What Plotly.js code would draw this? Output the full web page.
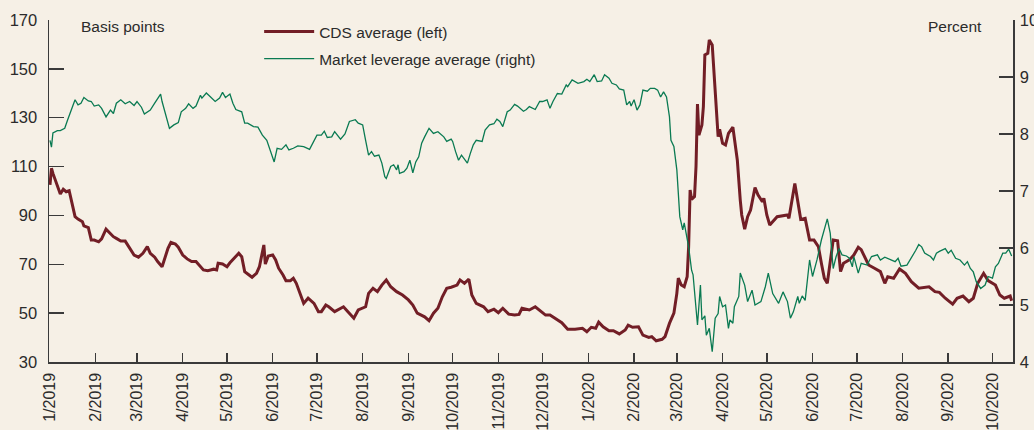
<!DOCTYPE html>
<html>
<head>
<meta charset="utf-8">
<script src="https://cdn.plot.ly/plotly-3.0.1.min.js"></script>
<style>
  html, body { margin: 0; padding: 0; background: #F6F0E6; }
  #chart { width: 1034px; height: 430px; }
</style>
</head>
<body>
<div id="chart"></div>
<script>
// CDS average (left axis, basis points)
const cdsDates = [
  '2019-01-01','2019-01-02','2019-01-03','2019-01-06','2019-01-08','2019-01-10','2019-01-12','2019-01-14','2019-01-16','2019-01-18',
  '2019-01-20','2019-01-23','2019-01-24','2019-01-27','2019-01-29','2019-01-31','2019-02-03','2019-02-05','2019-02-08','2019-02-11',
  '2019-02-13','2019-02-15','2019-02-18','2019-02-21','2019-02-24','2019-02-27','2019-03-02','2019-03-05','2019-03-08','2019-03-10',
  '2019-03-13','2019-03-15','2019-03-18','2019-03-20','2019-03-22','2019-03-24','2019-03-27','2019-03-29','2019-04-01','2019-04-04',
  '2019-04-07','2019-04-10','2019-04-13','2019-04-15','2019-04-18','2019-04-22','2019-04-24','2019-04-25','2019-04-28','2019-05-01',
  '2019-05-03','2019-05-06','2019-05-09','2019-05-11','2019-05-13','2019-05-16','2019-05-18','2019-05-21','2019-05-23','2019-05-26',
  '2019-05-27','2019-05-29','2019-06-01','2019-06-03','2019-06-05','2019-06-08','2019-06-10','2019-06-13','2019-06-15','2019-06-17',
  '2019-06-20','2019-06-22','2019-06-25','2019-06-29','2019-07-02','2019-07-04','2019-07-07','2019-07-09','2019-07-13','2019-07-19',
  '2019-07-22','2019-07-26','2019-07-29','2019-08-03','2019-08-05','2019-08-08','2019-08-11','2019-08-14','2019-08-17','2019-08-20',
  '2019-08-24','2019-08-28','2019-09-01','2019-09-04','2019-09-07','2019-09-10','2019-09-12','2019-09-15','2019-09-18','2019-09-21',
  '2019-09-24','2019-09-27','2019-09-30','2019-10-04','2019-10-06','2019-10-09','2019-10-12','2019-10-14','2019-10-17','2019-10-22',
  '2019-10-25','2019-10-29','2019-11-01','2019-11-04','2019-11-08','2019-11-12','2019-11-15','2019-11-17','2019-11-22','2019-11-26',
  '2019-11-29','2019-12-03','2019-12-06','2019-12-09','2019-12-14','2019-12-18','2019-12-23','2019-12-28','2019-12-31','2020-01-03',
  '2020-01-06','2020-01-08','2020-01-11','2020-01-15','2020-01-18','2020-01-22','2020-01-26','2020-01-28','2020-01-31','2020-02-04',
  '2020-02-07','2020-02-11','2020-02-13','2020-02-16','2020-02-20','2020-02-22','2020-02-25','2020-02-28','2020-03-01','2020-03-02',
  '2020-03-04','2020-03-06','2020-03-08','2020-03-09','2020-03-10','2020-03-11','2020-03-13','2020-03-14','2020-03-15','2020-03-16',
  '2020-03-18','2020-03-19','2020-03-20','2020-03-22','2020-03-23','2020-03-25','2020-03-27','2020-03-29','2020-03-30','2020-04-01',
  '2020-04-03','2020-04-05','2020-04-08','2020-04-09','2020-04-11','2020-04-13','2020-04-14','2020-04-16','2020-04-18','2020-04-20',
  '2020-04-23','2020-04-25','2020-04-28','2020-04-29','2020-05-01','2020-05-03','2020-05-08','2020-05-15','2020-05-16','2020-05-20',
  '2020-05-22','2020-05-24','2020-05-27','2020-05-30','2020-06-02','2020-06-05','2020-06-07','2020-06-09','2020-06-11','2020-06-13',
  '2020-06-15','2020-06-18','2020-06-20','2020-06-22','2020-06-26','2020-06-29','2020-07-02','2020-07-04','2020-07-07','2020-07-09',
  '2020-07-13','2020-07-17','2020-07-20','2020-07-22','2020-07-26','2020-07-30','2020-08-03','2020-08-07','2020-08-12','2020-08-19',
  '2020-08-23','2020-08-26','2020-08-30','2020-09-04','2020-09-07','2020-09-11','2020-09-15','2020-09-18','2020-09-21','2020-09-25',
  '2020-09-28','2020-10-03','2020-10-06','2020-10-09','2020-10-13','2020-10-14'
];
const cdsValues = [
  102.5,109.3,107.2,101.8,98.8,100.7,99.7,100.1,95.0,89.5,
  88.5,87.4,85.7,85.0,79.9,79.9,79.2,80.4,84.4,82.7,
  81.3,80.6,79.5,79.5,76.5,73.8,72.9,74.5,77.2,74.5,
  72.9,71.1,69.0,73.1,76.5,79.0,78.3,77.0,73.8,72.2,
  71.1,71.1,69.3,67.7,67.4,68.0,67.7,70.4,70.1,69.0,
  70.6,72.4,74.5,73.1,67.0,65.6,64.7,66.3,69.0,77.9,
  70.1,73.4,73.8,71.8,68.4,65.6,63.3,63.3,64.3,62.2,
  57.4,54.0,56.1,54.0,50.6,50.6,53.3,52.6,50.6,52.6,
  50.6,47.9,51.3,52.6,58.1,60.2,58.8,61.5,63.6,60.8,
  58.8,57.4,55.4,53.3,50.0,49.2,48.5,46.9,50.0,52.0,
  56.7,60.2,60.6,61.5,63.6,62.2,63.9,57.4,54.0,52.6,
  50.6,51.6,50.2,52.0,49.6,49.2,49.5,52.0,51.3,52.6,
  51.3,49.2,49.2,47.9,46.1,43.4,43.4,43.8,42.4,44.2,
  43.8,46.3,44.4,42.8,42.8,41.5,43.1,45.1,44.2,44.4,
  41.0,40.1,40.4,38.7,39.3,40.4,45.8,50.0,58.1,64.3,
  61.5,60.8,64.9,77.2,100.4,96.6,97.7,110.0,135.6,122.9,
  127.0,134.5,155.7,156.4,161.8,159.8,140.0,122.2,125.3,119.5,
  118.8,123.6,126.1,122.2,112.7,96.3,90.2,84.4,89.5,92.2,
  101.4,98.4,95.6,97.0,90.2,86.1,89.5,90.2,88.8,103.1,
  95.0,88.4,88.8,79.9,79.9,77.2,70.4,64.3,62.2,71.8,
  79.9,79.6,67.0,70.4,71.8,73.8,77.0,76.0,71.8,69.7,
  68.4,67.0,62.2,64.9,64.3,68.1,66.3,62.9,60.2,60.8,
  58.8,58.5,56.1,53.7,56.1,57.0,54.7,56.1,62.2,66.3,
  63.3,61.5,57.4,56.1,57.0,55.1
];

// Market leverage average (right axis, percent)
const levDates = [
  '2019-01-01','2019-01-02','2019-01-03','2019-01-06','2019-01-08','2019-01-11','2019-01-13','2019-01-16','2019-01-18','2019-01-20',
  '2019-01-22','2019-01-24','2019-01-27','2019-01-29','2019-01-31','2019-02-03','2019-02-05','2019-02-08','2019-02-11','2019-02-13',
  '2019-02-15','2019-02-18','2019-02-21','2019-02-24','2019-02-27','2019-03-01','2019-03-04','2019-03-06','2019-03-10','2019-03-13',
  '2019-03-17','2019-03-18','2019-03-20','2019-03-23','2019-03-26','2019-03-29','2019-03-31','2019-04-03','2019-04-05','2019-04-08',
  '2019-04-10','2019-04-13','2019-04-14','2019-04-17','2019-04-19','2019-04-23','2019-04-26','2019-04-28','2019-04-30','2019-05-03',
  '2019-05-05','2019-05-07','2019-05-11','2019-05-13','2019-05-15','2019-05-19','2019-05-22','2019-05-25','2019-05-28','2019-05-31',
  '2019-06-02','2019-06-04','2019-06-07','2019-06-10','2019-06-12','2019-06-15','2019-06-18','2019-06-22','2019-06-26','2019-07-01',
  '2019-07-04','2019-07-06','2019-07-08','2019-07-11','2019-07-13','2019-07-17','2019-07-20','2019-07-23','2019-07-27','2019-07-29',
  '2019-08-01','2019-08-03','2019-08-05','2019-08-07','2019-08-09','2019-08-12','2019-08-14','2019-08-16','2019-08-17','2019-08-20',
  '2019-08-22','2019-08-24','2019-08-25','2019-08-26','2019-08-29','2019-08-31','2019-09-02','2019-09-04','2019-09-06','2019-09-08',
  '2019-09-10','2019-09-12','2019-09-15','2019-09-18','2019-09-21','2019-09-25','2019-09-27','2019-09-30','2019-10-01','2019-10-03',
  '2019-10-05','2019-10-07','2019-10-11','2019-10-13','2019-10-15','2019-10-17','2019-10-21','2019-10-23','2019-10-26','2019-10-29',
  '2019-10-31','2019-11-02','2019-11-04','2019-11-07','2019-11-09','2019-11-12','2019-11-14','2019-11-18','2019-11-20','2019-11-22',
  '2019-11-26','2019-11-29','2019-12-01','2019-12-04','2019-12-06','2019-12-08','2019-12-11','2019-12-14','2019-12-17','2019-12-18',
  '2019-12-21','2019-12-25','2019-12-29','2019-12-31','2020-01-02','2020-01-05','2020-01-07','2020-01-10','2020-01-12','2020-01-15',
  '2020-01-17','2020-01-20','2020-01-22','2020-01-25','2020-01-27','2020-01-29','2020-01-30','2020-02-01','2020-02-03','2020-02-05',
  '2020-02-07','2020-02-10','2020-02-12','2020-02-15','2020-02-17','2020-02-19','2020-02-21','2020-02-23','2020-02-25','2020-02-26',
  '2020-02-28','2020-03-01','2020-03-02','2020-03-03','2020-03-05','2020-03-06','2020-03-09','2020-03-11','2020-03-12','2020-03-13',
  '2020-03-15','2020-03-17','2020-03-18','2020-03-20','2020-03-21','2020-03-23','2020-03-25','2020-03-27','2020-03-29','2020-03-30',
  '2020-04-01','2020-04-03','2020-04-05','2020-04-06','2020-04-08','2020-04-09','2020-04-12','2020-04-13','2020-04-16','2020-04-18',
  '2020-04-21','2020-04-23','2020-04-25','2020-04-27','2020-04-30','2020-05-02','2020-05-05','2020-05-09','2020-05-12','2020-05-15',
  '2020-05-17','2020-05-19','2020-05-22','2020-05-23','2020-05-25','2020-05-27','2020-05-30','2020-06-01','2020-06-04','2020-06-07',
  '2020-06-11','2020-06-13','2020-06-15','2020-06-17','2020-06-19','2020-06-21','2020-06-24','2020-06-26','2020-06-28','2020-06-29',
  '2020-07-02','2020-07-04','2020-07-08','2020-07-11','2020-07-15','2020-07-17','2020-07-20','2020-07-24','2020-07-27','2020-07-29',
  '2020-07-31','2020-08-04','2020-08-07','2020-08-10','2020-08-12','2020-08-14','2020-08-16','2020-08-20','2020-08-22','2020-08-24',
  '2020-08-26','2020-08-30','2020-09-01','2020-09-03','2020-09-06','2020-09-09','2020-09-12','2020-09-14','2020-09-16','2020-09-18',
  '2020-09-20','2020-09-23','2020-09-26','2020-09-28','2020-10-01','2020-10-03','2020-10-05','2020-10-08','2020-10-10','2020-10-12',
  '2020-10-14'
];
const levValues = [
  7.89,7.77,8.02,8.06,8.06,8.10,8.25,8.48,8.60,8.51,
  8.54,8.64,8.58,8.57,8.49,8.51,8.45,8.30,8.42,8.36,
  8.54,8.60,8.53,8.57,8.50,8.57,8.47,8.35,8.42,8.54,
  8.70,8.57,8.39,8.10,8.16,8.20,8.39,8.45,8.53,8.45,
  8.49,8.68,8.63,8.72,8.67,8.57,8.63,8.73,8.64,8.70,
  8.54,8.43,8.39,8.19,8.19,8.13,8.12,7.98,7.89,7.66,
  7.51,7.75,7.73,7.81,7.72,7.75,7.79,7.78,7.73,7.98,
  7.98,8.05,7.94,7.95,8.04,7.91,8.00,8.22,8.25,8.19,
  8.16,7.89,7.63,7.69,7.61,7.63,7.49,7.25,7.22,7.43,
  7.46,7.37,7.46,7.31,7.34,7.40,7.54,7.32,7.51,7.60,
  7.84,7.95,8.10,8.01,8.04,7.95,7.87,7.91,7.87,7.69,
  7.54,7.63,7.49,7.66,7.81,7.89,7.87,8.07,8.16,8.18,
  8.26,8.22,8.13,8.39,8.42,8.52,8.49,8.40,8.43,8.48,
  8.43,8.57,8.57,8.60,8.45,8.57,8.71,8.70,8.86,8.83,
  8.95,8.89,8.92,8.96,8.92,9.04,8.92,8.93,9.04,8.98,
  8.89,8.86,8.79,8.77,8.51,8.57,8.49,8.60,8.42,8.51,
  8.77,8.75,8.80,8.80,8.77,8.65,8.74,8.65,8.30,7.89,
  7.78,7.37,7.02,6.55,6.32,6.44,6.02,5.61,5.53,5.26,
  4.65,5.35,4.74,4.81,4.47,4.59,4.18,4.77,4.85,5.15,
  4.97,5.00,4.59,4.74,4.68,4.97,5.15,5.56,5.35,5.06,
  5.26,5.00,5.03,5.06,5.32,5.56,5.20,5.03,5.23,5.06,
  4.77,4.88,5.15,5.03,5.16,5.08,5.79,5.50,5.79,6.14,
  6.51,6.26,5.64,5.85,5.99,5.88,5.86,5.82,5.67,5.85,
  5.56,5.73,5.70,5.85,5.88,5.79,5.84,5.80,5.76,5.82,
  5.68,5.70,5.82,5.96,6.06,6.02,5.91,5.85,5.79,5.91,
  5.94,5.99,5.91,5.96,5.82,5.79,5.70,5.76,5.64,5.58,
  5.41,5.29,5.35,5.50,5.47,5.67,5.73,5.91,5.91,5.98,
  5.86
];

const seriesNames = ['CDS average (left)', 'Market leverage average (right)'];
const leftUnit = 'Basis points';
const rightUnit = 'Percent';

const FONT = '"Liberation Sans", Arial, Helvetica, sans-serif';
const BG = '#F6F0E6';
const AX = '#3a3a3a';
const TXT = '#2b2b2b';
const RED = '#721E26';
const GREEN = '#0A7A52';

const traces = [
  {
    x: cdsDates, y: cdsValues, type: 'scatter', mode: 'lines',
    name: seriesNames[0], yaxis: 'y', legend: 'legend',
    line: { color: RED, width: 3 }
  },
  {
    x: levDates, y: levValues, type: 'scatter', mode: 'lines',
    name: seriesNames[1], yaxis: 'y2', legend: 'legend2',
    line: { color: GREEN, width: 1.3 }
  }
];

const layout = {
  width: 1034, height: 430,
  paper_bgcolor: BG, plot_bgcolor: BG,
  margin: { l: 49, r: 21, t: 20, b: 68 },
  font: { family: FONT, size: 16, color: TXT },
  showlegend: true,
  xaxis: {
    type: 'date',
    range: ['2018-12-31 08:00', '2020-10-14 22:00'],
    tick0: '2019-01-01', dtick: 'M1', tickformat: '%-m/%Y',
    tickangle: -90,
    ticks: 'inside', ticklen: 9, tickwidth: 1.5, tickcolor: AX,
    showline: true, linecolor: AX, linewidth: 1.5,
    showgrid: false, zeroline: false,
    tickfont: { family: FONT, size: 16, color: TXT },
    ticklabelstandoff: 3
  },
  yaxis: {
    range: [30, 170], dtick: 20, tick0: 30,
    ticks: 'inside', ticklen: 15, tickwidth: 1.5, tickcolor: AX,
    showline: true, linecolor: AX, linewidth: 1.5,
    showgrid: false, zeroline: false,
    tickfont: { family: FONT, size: 16.5, color: TXT },
    ticklabelstandoff: 7
  },
  yaxis2: {
    overlaying: 'y', side: 'right',
    range: [4, 10], dtick: 1,
    ticks: 'inside', ticklen: 14, tickwidth: 1.5, tickcolor: AX,
    showline: true, linecolor: AX, linewidth: 1.5,
    showgrid: false, zeroline: false,
    tickfont: { family: FONT, size: 16.5, color: TXT },
    ticklabelstandoff: 2
  },
  legend: {
    x: 0.218, y: 0.965, xanchor: 'left', yanchor: 'middle',
    bgcolor: 'rgba(0,0,0,0)', itemwidth: 50,
    font: { family: FONT, size: 15.5, color: TXT }
  },
  legend2: {
    x: 0.218, y: 0.886, xanchor: 'left', yanchor: 'middle',
    bgcolor: 'rgba(0,0,0,0)', itemwidth: 50,
    font: { family: FONT, size: 15.5, color: TXT }
  },
  annotations: [
    { xref: 'paper', yref: 'paper', x: 0.031, y: 0.982, xanchor: 'left', yanchor: 'middle',
      text: leftUnit, showarrow: false, font: { family: FONT, size: 15.5, color: TXT } },
    { xref: 'paper', yref: 'paper', x: 0.97, y: 0.982, xanchor: 'right', yanchor: 'middle',
      text: rightUnit, showarrow: false, font: { family: FONT, size: 15.5, color: TXT } }
  ]
};

Plotly.newPlot('chart', traces, layout, { staticPlot: true, displayModeBar: false });
</script>
</body>
</html>
